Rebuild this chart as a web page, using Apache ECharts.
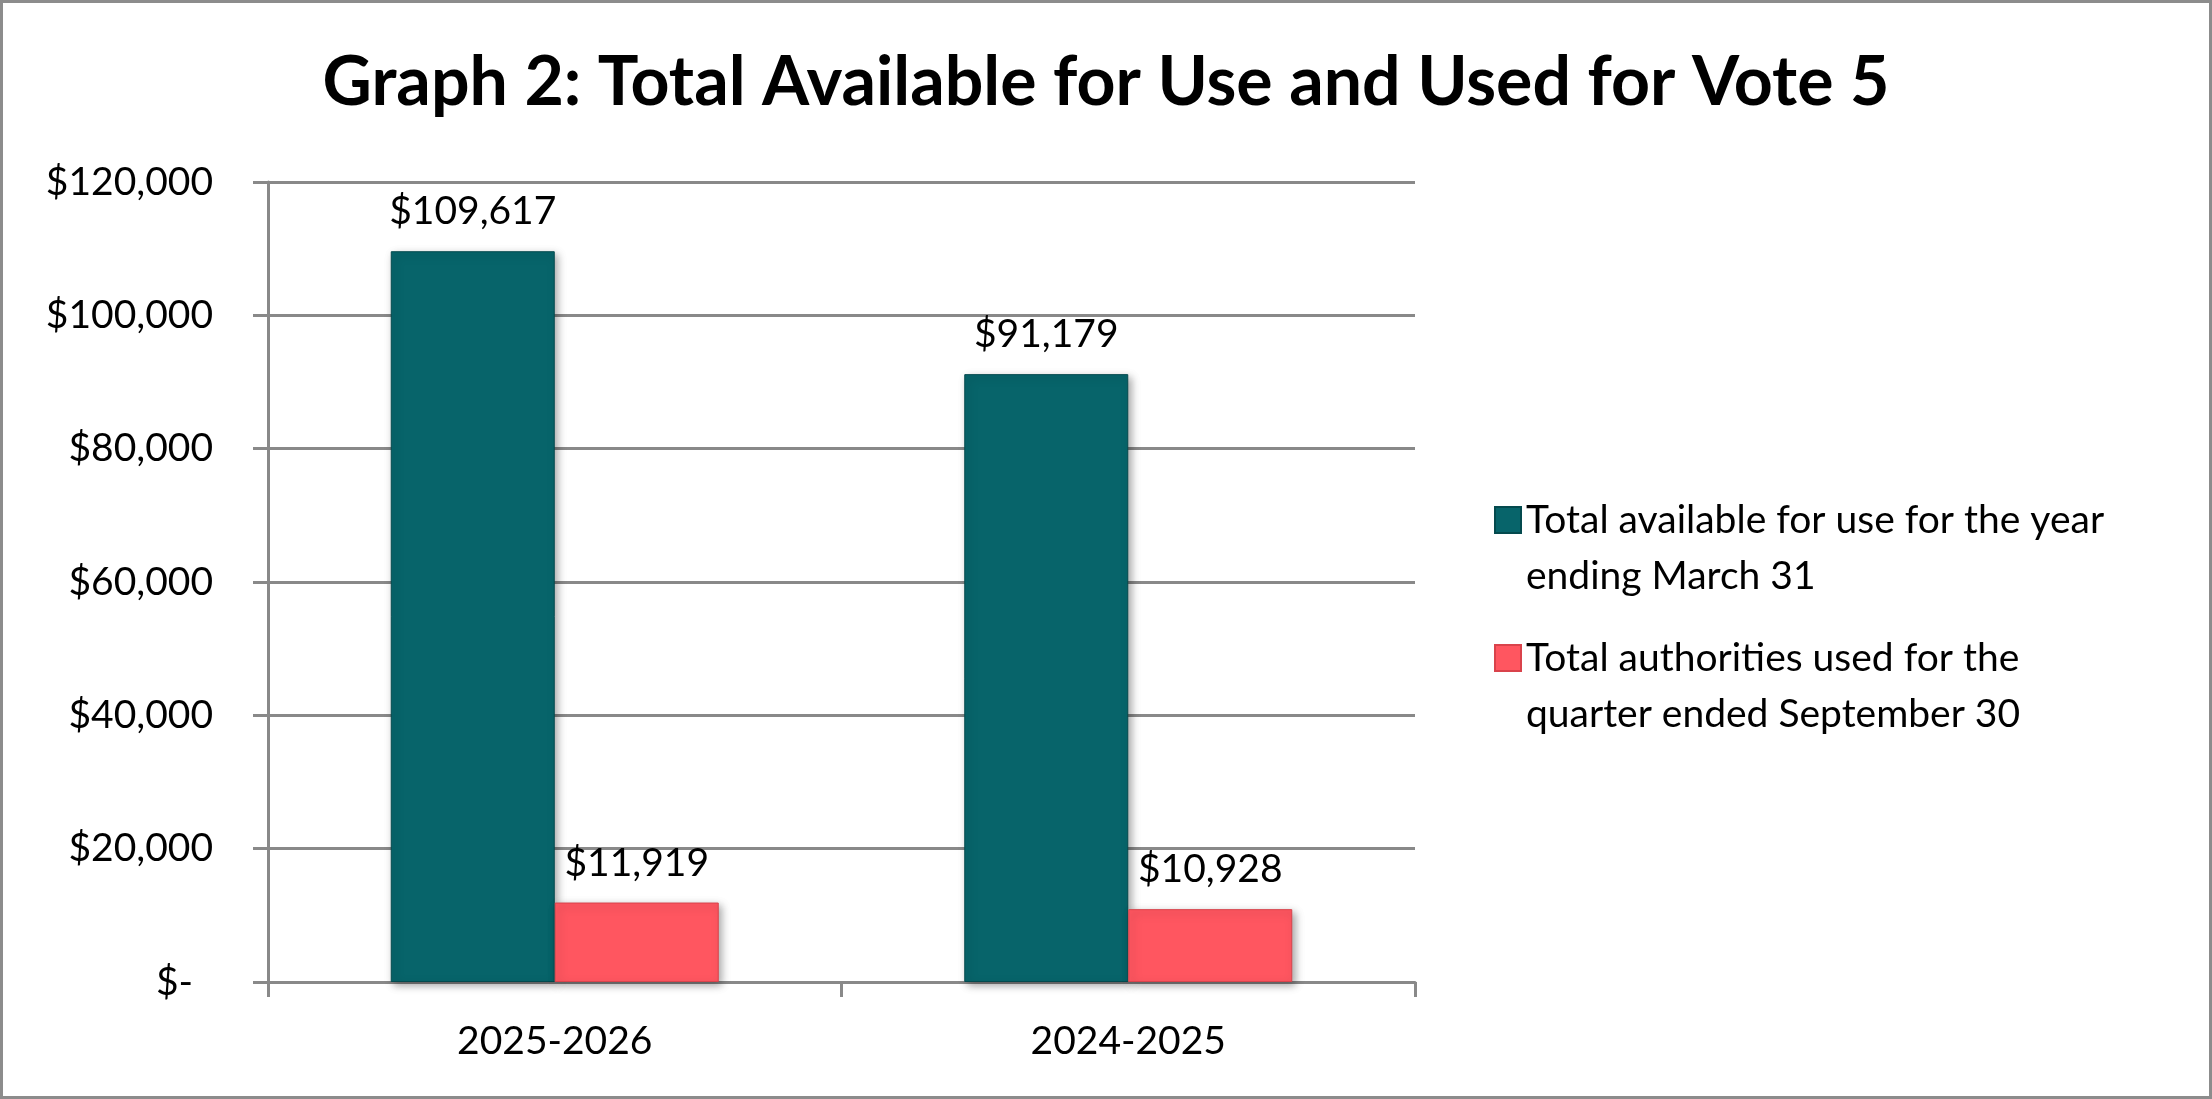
<!DOCTYPE html>
<html>
<head>
<meta charset="utf-8">
<script src="https://cdn.jsdelivr.net/npm/echarts@6/dist/echarts.min.js"></script>
<style>
    html, body { margin: 0; padding: 0; background: #fff; }
    #vote5-chart { width: 2212px; height: 1099px; }
</style>
</head>
<body>
<div id="vote5-chart"></div>
<script>
const CHART_TITLE = 'Graph 2: Total Available for Use and Used for Vote 5';
const FISCAL_YEARS = ['2025-2026', '2024-2025'];
const SERIES_NAMES = [
    'Total available for use for the year\nending March 31',
    'Total authorities used for the\nquarter ended September 30'
];
const AVAILABLE_FOR_USE = [109617, 91179];
const AUTHORITIES_USED = [11919, 10928];
const Y_TICK_MAX = 120000;
const Y_TICK_STEP = 20000;

const FONT = 'Lato';
const TEAL = '#07646A';
const RED = '#FF5660';
const GRID_GRAY = '#898989';

// Accounting style: zero shows as a dash, padded like Excel does.
function money(v) {
    if (v === 0) {
        return '$-\u00a0\u00a0';
    }
    return '$' + v.toLocaleString('en-US');
}

let chart = echarts.init(document.getElementById('vote5-chart'));

let bar_label = {
    show: true,
    position: 'top',
    distance: 20,
    color: '#000',
    fontFamily: FONT,
    fontSize: 39,
    formatter: function (p) { return money(p.value); }
};

let options = {
    backgroundColor: '#fff',
    textStyle: { fontFamily: FONT },
    title: {
        text: CHART_TITLE,
        left: 'center',
        top: 44,
        textStyle: {
            fontFamily: FONT,
            fontWeight: 'bold',
            fontSize: 68,
            color: '#000'
        }
    },
    /* Outer frame like the original chart area border. */
    graphic: [
        {
            type: 'rect',
            shape: { x: 1.5, y: 1.5, width: 2209, height: 1096 },
            style: { fill: 'none', stroke: '#8c8c8c', lineWidth: 3 },
            silent: true
        }
    ],
    legend: {
        orient: 'vertical',
        left: 1489,
        top: 431,
        icon: 'rect',
        itemWidth: 26,
        itemHeight: 26,
        itemGap: -30,
        /* Leading blank line so the marker lines up with the first text line. */
        formatter: function (name) { return '\n' + name; },
        textStyle: {
            fontFamily: FONT,
            fontSize: 39,
            lineHeight: 56,
            color: '#000'
        },
        data: SERIES_NAMES
    },
    grid: {
        left: 268,
        right: 797,
        top: 182,
        bottom: 117,
        containLabel: false
    },
    xAxis: [
        {
            type: 'category',
            data: FISCAL_YEARS,
            axisLine: { show: true, lineStyle: { color: GRID_GRAY, width: 3 } },
            axisTick: { show: true, length: 15, lineStyle: { color: GRID_GRAY, width: 3 } },
            axisLabel: {
                color: '#000',
                fontFamily: FONT,
                fontSize: 39,
                margin: 40
            }
        }
    ],
    yAxis: [
        {
            type: 'value',
            min: 0,
            max: Y_TICK_MAX,
            interval: Y_TICK_STEP,
            axisLine: { show: true, lineStyle: { color: GRID_GRAY, width: 3 } },
            axisTick: { show: true, length: 15, lineStyle: { color: GRID_GRAY, width: 3 } },
            splitLine: { show: true, lineStyle: { color: GRID_GRAY, width: 3 } },
            axisLabel: {
                color: '#000',
                fontFamily: FONT,
                fontSize: 39,
                margin: 55,
                formatter: money
            }
        }
    ],
    series: [
        {
            name: SERIES_NAMES[0],
            type: 'bar',
            data: AVAILABLE_FOR_USE,
            barWidth: 164,
            barGap: '0%',
            itemStyle: {
                color: TEAL,
                borderColor: '#044a4e',
                borderWidth: 1,
                shadowColor: 'rgba(0,0,0,0.35)',
                shadowBlur: 8,
                shadowOffsetX: 3,
                shadowOffsetY: 3
            },
            label: bar_label
        },
        {
            name: SERIES_NAMES[1],
            type: 'bar',
            data: AUTHORITIES_USED,
            barWidth: 164,
            barGap: '0%',
            itemStyle: {
                color: RED,
                borderColor: '#d9434b',
                borderWidth: 1,
                shadowColor: 'rgba(0,0,0,0.35)',
                shadowBlur: 8,
                shadowOffsetX: 3,
                shadowOffsetY: 3
            },
            label: bar_label
        }
    ]
};

chart.setOption(options);

window.addEventListener('resize', function () {
    chart.resize();
});
</script>
</body>
</html>
